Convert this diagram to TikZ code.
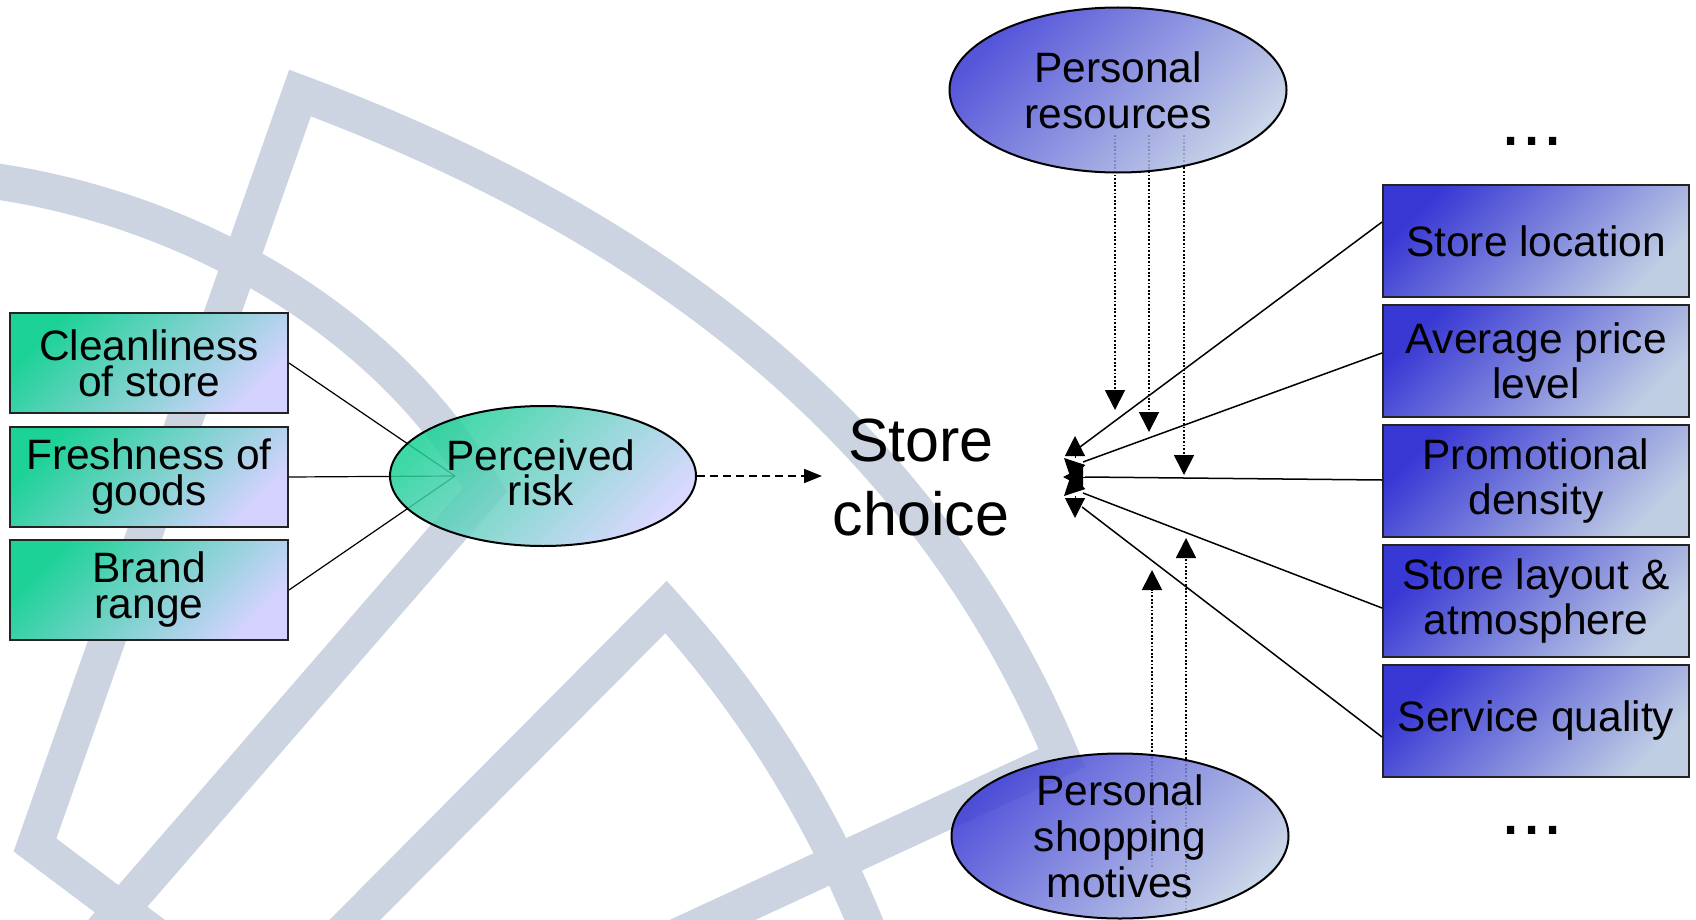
\documentclass[tikz,border=0pt]{standalone}
\usepackage{fontspec}
\setmainfont{Liberation Sans}
\usetikzlibrary{arrows.meta,shapes.geometric,calc}
\pgfdeclarelayer{wmlayer}
\pgfdeclarelayer{linklayer}
\pgfsetlayers{wmlayer,linklayer,main}
\definecolor{wm}{RGB}{204,212,226}
\definecolor{grA}{RGB}{28,210,150}
\definecolor{grB}{RGB}{212,210,255}
\definecolor{blA}{RGB}{56,56,212}
\definecolor{blB}{RGB}{192,206,228}
\definecolor{edgec}{RGB}{35,35,35}
\begin{document}
\begin{tikzpicture}[x=0.5pt,y=-0.5pt,
  band/.style={draw=wm,line width=18pt,line join=miter},
  gbox/.style={rectangle,draw=edgec,line width=1pt,top color=grA,bottom color=grB,shading angle=45,
     minimum width=139pt,minimum height=50pt,inner sep=0pt,align=center,
     font=\fontsize{21.25}{18}\selectfont},
  bbox/.style={rectangle,draw=edgec,line width=1pt,top color=blA,bottom color=blB,shading angle=45,
     minimum width=153pt,minimum height=56pt,inner sep=0pt,align=center,
     font=\fontsize{21.25}{22.5}\selectfont},
  gell/.style={ellipse,draw=black,line width=1pt,top color=grA,bottom color=grB,shading angle=45,
     fill opacity=0.85,inner sep=0pt,minimum width=153pt,minimum height=70pt},
  bell/.style={ellipse,draw=black,line width=1pt,top color=blA,bottom color=blB,shading angle=45,
     fill opacity=0.85,inner sep=0pt,minimum width=168.5pt,minimum height=82.5pt},
  etext/.style={align=center,inner sep=0pt,font=\fontsize{21.25}{23}\selectfont},
  dotsym/.style={inner sep=0pt,font=\fontsize{38}{38}\selectfont},
  link/.style={draw=black,line width=0.75pt},
  thinlink/.style={draw=black,line width=0.6pt},
  head/.style={-{Triangle[length=10pt,width=10pt]},line width=0.5pt},
  dotarrow/.style={draw=black,line width=0.9pt,dash pattern=on 0.9pt off 0.9pt,-{Triangle[length=10pt,width=10pt]}},
  dasharrow/.style={draw=black,line width=0.8pt,dash pattern=on 4pt off 2.5pt,-{Triangle[length=9pt,width=7pt]}}
]
\useasboundingbox (0,0) rectangle (1696,920);

% ---------- watermark ----------
\begin{pgfonlayer}{wmlayer}
\fill[white] (0,0) rectangle (1696,920);
\begin{scope}
\clip (0,0) rectangle (1696,920);
\draw[band] (-30,178) .. controls (170,200) and (380,310) .. (485,490) -- (86,950);
\draw[band] (195,965) -- (35,845) -- (300,93) .. controls (560,190) and (900,370) .. (1062,758) -- (626,960);
\draw[band] (315,960) -- (666,607) .. controls (750,700) and (830,820) .. (885,975);
\end{scope}
\end{pgfonlayer}

% ---------- left group ----------
\node[gbox] (c1) at (149,363) {Cleanliness\\of store};
\node[gbox] (c2) at (149,477) {Freshness of\\goods};
\node[gbox] (c3) at (149,590) {Brand\\range};
\node[gell] (risk) at (543,476) {};
\node[align=center,inner sep=0pt,font=\fontsize{21.25}{17.5}\selectfont] (risklbl) at ($(risk.center)+(-2,-3)$) {Perceived\\risk};
\coordinate (rin) at (455,476);
\begin{pgfonlayer}{linklayer}
\draw[thinlink] (c1.east) -- (rin);
\draw[thinlink] (c2.east) -- (rin);
\draw[thinlink] (c3.east) -- (rin);
\end{pgfonlayer}

% ---------- store choice ----------
\node[align=center,inner sep=0pt,font=\fontsize{30.5}{37}\selectfont] (sc) at (921,477) {Store\\choice};
\coordinate (dtip) at (822,476);
\draw[dasharrow] (risk.east) -- (dtip);

% ---------- personal resources / motives ----------
\node[bell] (res) at (1118,90) {};
\node[etext] (reslbl) at (res.center) {Personal\\resources};
\node[bell] (mot) at (1120,836) {};
\node[etext] (motlbl) at (mot.center) {Personal\\shopping\\motives};

\coordinate (rd1) at (1115,410);
\coordinate (rd2) at (1149,432);
\coordinate (rd3) at (1184,475);
\coordinate (mu1) at (1152,570);
\coordinate (mu2) at (1186,538);
\begin{pgfonlayer}{linklayer}
\draw[dotarrow] ($(res.center)+(-3,45)$) -- (rd1);
\draw[dotarrow] ($(res.center)+(31,45)$) -- (rd2);
\draw[dotarrow] ($(res.center)+(66,45)$) -- (rd3);
\draw[dotarrow] ($(mot.center)+(32,31)$) -- (mu1);
\draw[dotarrow] ($(mot.center)+(66,74)$) -- (mu2);
\end{pgfonlayer}

% ---------- right group ----------
\node[bbox] (r1) at (1536,241) {Store location};
\node[bbox] (r2) at (1536,361) {Average price\\level};
\node[bbox] (r3) at (1536,481) {Promotional\\density};
\node[bbox] (r4) at (1536,601) {Store layout \&\\atmosphere};
\node[bbox] (r5) at (1536,721) {Service quality};
\node[dotsym] (dtop) at (1532,141) {...};
\node[dotsym] (dbot) at (1532,830) {...};

\coordinate (e1) at (1080,447);
\coordinate (e2) at (1083,462);
\coordinate (e3) at (1085,477);
\coordinate (e4) at (1083,493);
\coordinate (e5) at (1082,507);
\draw[link] ($(r1.west)+(0,-19)$) -- (e1);
\draw[link] ($(r2.west)+(0,-8)$) -- (e2);
\draw[link] ($(r3.west)+(0,-1)$) -- (e3);
\draw[link] ($(r4.west)+(0,7)$) -- (e4);
\draw[link] ($(r5.west)+(0,16)$) -- (e5);

\coordinate (h1t) at (1075,436); \coordinate (h1b) at (1075,458);
\coordinate (h2t) at (1064,458); \coordinate (h2b) at (1080,474);
\coordinate (h3t) at (1063,477); \coordinate (h3b) at (1085,477);
\coordinate (h4t) at (1064,496); \coordinate (h4b) at (1080,480);
\coordinate (h5t) at (1075,518); \coordinate (h5b) at (1075,496);
\draw[head] (h1b) -- (h1t);
\draw[head] (h2b) -- (h2t);
\draw[head] (h3b) -- (h3t);
\draw[head] (h4b) -- (h4t);
\draw[head] (h5b) -- (h5t);
\end{tikzpicture}
\end{document}
